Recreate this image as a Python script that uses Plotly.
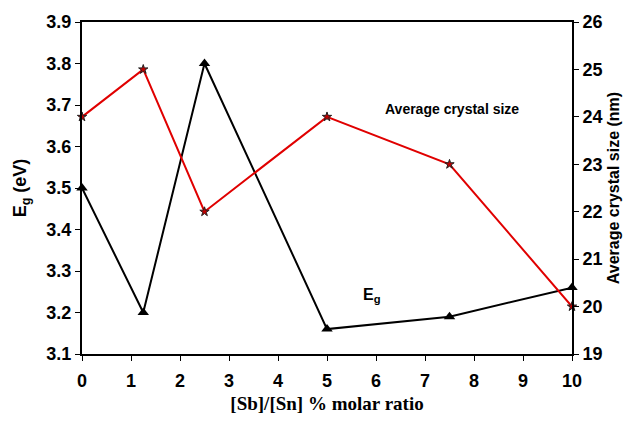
import plotly.graph_objects as go

x_ratio = [0, 1.25, 2.5, 5, 7.5, 10]
eg_values = [3.5, 3.2, 3.8, 3.16, 3.19, 3.26]
crystal_size = [24, 25, 22, 24, 23, 20]

x_ticks = list(range(0, 11))
eg_ticks = [3.1, 3.2, 3.3, 3.4, 3.5, 3.6, 3.7, 3.8, 3.9]
size_ticks = list(range(19, 27))

SANS = "Liberation Sans, Arial, sans-serif"
SERIF = "Liberation Serif, Times New Roman, serif"

fig = go.Figure()
fig.add_trace(go.Scatter(
    x=x_ratio, y=eg_values, mode="lines+markers",
    line=dict(color="black", width=2),
    marker=dict(symbol="triangle-up", size=10, color="black"),
    yaxis="y", showlegend=False, cliponaxis=False))
fig.add_trace(go.Scatter(
    x=x_ratio, y=crystal_size, mode="lines+markers",
    line=dict(color="#e00000", width=2),
    marker=dict(symbol="star", size=7, color="#c00000", line=dict(color="#222", width=1)),
    yaxis="y2", showlegend=False, cliponaxis=False))

tickfont = dict(family=SANS, size=18, color="black")
fig.update_layout(
    width=633, height=423,
    margin=dict(l=82, r=61, t=21, b=65),
    paper_bgcolor="white", plot_bgcolor="white",
    xaxis=dict(range=[0, 10], tickvals=x_ticks, ticktext=[f"<b>{v}</b>" for v in x_ticks],
               tickfont=tickfont, showline=True, linecolor="black", linewidth=2,
               mirror=True, ticks="outside", ticklen=5, tickcolor="black",
               ticklabelstandoff=4,
               showgrid=False, zeroline=False,
               title=dict(text="<b>[Sb]/[Sn] % molar ratio</b>",
                          font=dict(family=SERIF, size=19, color="black"), standoff=7)),
    yaxis=dict(range=[3.1, 3.9], tickvals=eg_ticks, ticktext=[f"<b>{v:.1f}</b>" for v in eg_ticks],
               tickfont=tickfont, showline=True, linecolor="black", linewidth=2,
               ticks="outside", ticklen=5, tickcolor="black",
               showgrid=False, zeroline=False,
               title=dict(text="<b>E<sub>g</sub> (eV)</b>",
                          font=dict(family=SANS, size=18, color="black"), standoff=15)),
    yaxis2=dict(range=[19, 26], tickvals=size_ticks, ticktext=[f"<b>{v}</b>" for v in size_ticks],
                overlaying="y", side="right",
                tickfont=tickfont, showline=True, linecolor="black", linewidth=2,
                ticks="outside", ticklen=5, tickcolor="black",
                showgrid=False, zeroline=False,
                title=dict(text="<b>Average crystal size (nm)</b>",
                           font=dict(family=SANS, size=16, color="black"), standoff=6)),
    annotations=[
        dict(x=7.55, y=3.69, xref="x", yref="y", text="<b>Average crystal size</b>",
             showarrow=False, font=dict(family=SANS, size=14, color="black")),
        dict(x=5.92, y=3.24, xref="x", yref="y", text="<b>E<sub>g</sub></b>",
             showarrow=False, font=dict(family=SANS, size=16, color="black")),
    ],
)

fig.write_html("out.html")
